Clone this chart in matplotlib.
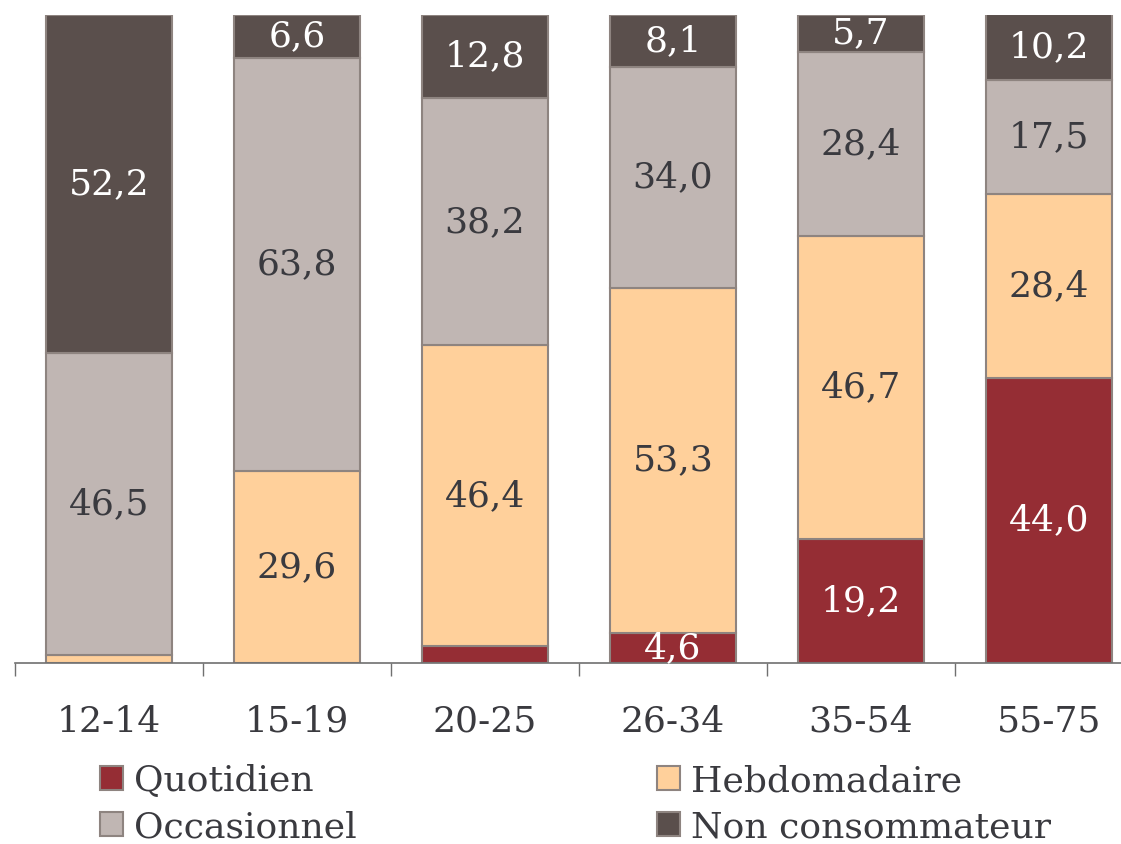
import numpy as np
import matplotlib.pyplot as plt

categories = ['12-14', '15-19', '20-25', '26-34', '35-54', '55-75']
quotidien = [0.0, 0.0, 2.6, 4.6, 19.2, 44.0]
hebdomadaire = [1.3, 29.6, 46.4, 53.3, 46.7, 28.4]
occasionnel = [46.5, 63.8, 38.2, 34.0, 28.4, 17.5]
non_conso = [52.2, 6.6, 12.8, 8.1, 5.7, 10.2]

series = [
    ('Quotidien', quotidien, '#952d34', 'white'),
    ('Hebdomadaire', hebdomadaire, '#ffd09b', '#3a3a3f'),
    ('Occasionnel', occasionnel, '#c0b6b3', '#3a3a3f'),
    ('Non consommateur', non_conso, '#5a4f4c', 'white'),
]

plt.rcParams['font.family'] = ['DejaVu Serif']

fig = plt.figure(figsize=(11.21, 8.44), dpi=100)
ax = fig.add_axes([15 / 1121, 181 / 844, 1128 / 1121, 648 / 844])

x = np.arange(len(categories))
bottom = np.zeros(len(categories))
handles = {}
for name, vals, color, tcolor in series:
    vals = np.array(vals)
    bars = ax.bar(x, vals, width=0.665, bottom=bottom, color=color,
                  edgecolor='#8e8480', linewidth=1.5, label=name)
    handles[name] = bars
    for xi, b, v in zip(x, bottom, vals):
        if v >= 4:
            ax.text(xi, b + v / 2, f'{v:.1f}'.replace('.', ','), ha='center',
                    va='center', fontsize=26, color=tcolor)
    bottom += vals

ax.set_xlim(-0.5, 5.5)
ax.set_ylim(0, 100)
for s in ['top', 'right', 'left']:
    ax.spines[s].set_visible(False)
ax.spines['bottom'].set_color('#707070')
ax.spines['bottom'].set_linewidth(1.2)
ax.set_yticks([])
ax.set_xticks(np.arange(-0.5, 6, 1))
ax.set_xticklabels([])
ax.tick_params(axis='x', which='major', direction='out', length=9, width=1, color='#707070')
ax.set_xticks(x, minor=True)
ax.set_xticklabels(categories, minor=True, fontsize=26, color='#3a3a3f')
ax.tick_params(axis='x', which='minor', length=0, pad=30)

order = ['Quotidien', 'Occasionnel', 'Hebdomadaire', 'Non consommateur']
leg = fig.legend([handles[n] for n in order], order, ncol=2, loc='lower left',
                 bbox_to_anchor=(100 / 1121, 0.0), frameon=False, fontsize=26,
                 handlelength=0.65, handleheight=0.65, handletextpad=0.3,
                 columnspacing=8.3, labelspacing=0.33, labelcolor='#3a3a3f',
                 borderaxespad=0, borderpad=0.0)

fig.savefig('out.png', dpi=100)
